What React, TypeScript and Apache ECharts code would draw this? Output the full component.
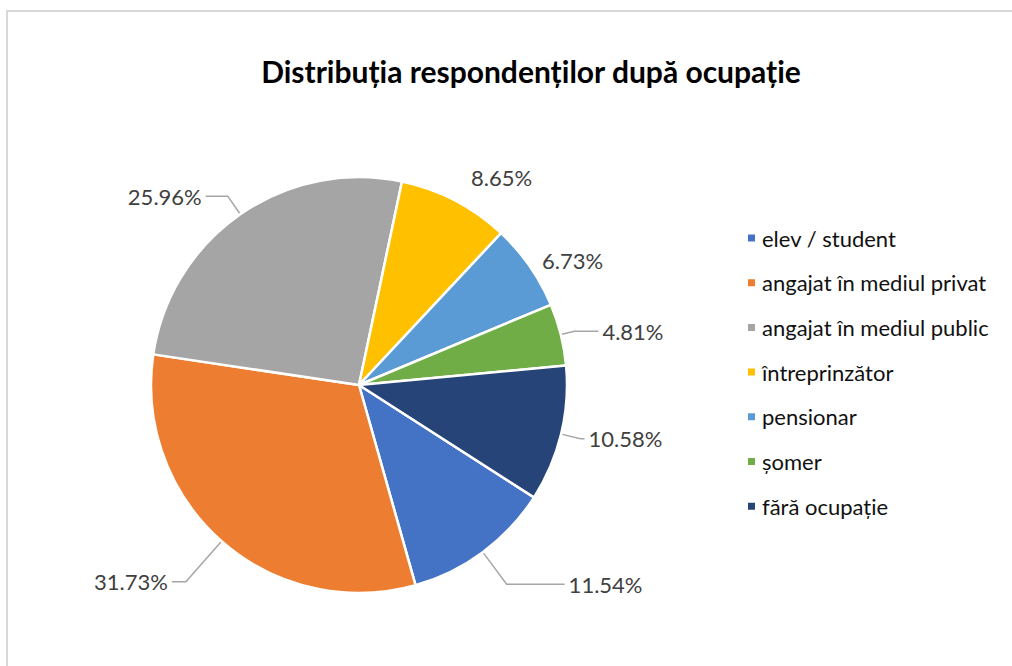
import React, { useEffect, useRef } from "react";
import * as echarts from "echarts";

const title = "Distribuția respondenților după ocupație";
const categories = [
  "elev / student",
  "angajat în mediul privat",
  "angajat în mediul public",
  "întreprinzător",
  "pensionar",
  "șomer",
  "fără ocupație",
];
const counts = [12, 33, 27, 9, 7, 5, 11];
const colors = ["#4472C4", "#ED7D31", "#A5A5A5", "#FFC000", "#5B9BD5", "#70AD47", "#264478"];
// leader line lengths per slice [length, length2, showLine]
const lineLengths: [number, number, boolean][] = [
  [40, 58, true],
  [54, 14, true],
  [22, 22, true],
  [26, 0, false],
  [10, 0, false],
  [14, 24, true],
  [20, 4, true],
];

export default function App() {
  const ref = useRef<HTMLDivElement>(null);
  useEffect(() => {
    if (!ref.current) return;
    const chart = echarts.init(ref.current, undefined, { renderer: "svg" });
    const data = categories.map((name, i) => ({
      name,
      value: counts[i],
      itemStyle: { color: colors[i] },
      labelLine: {
        show: lineLengths[i][2],
        length: lineLengths[i][0],
        length2: lineLengths[i][1],
      },
    }));
    chart.setOption({
      animation: false,
      backgroundColor: "#ffffff",
      title: {
        text: title,
        left: 526,
        textAlign: "center",
        top: 51,
        textStyle: {
          fontFamily: "Lato",
          fontWeight: "bold",
          fontSize: 30,
          color: "#000000",
        },
      },
      graphic: [
        {
          type: "rect",
          shape: { x: 7, y: 11, width: 1100, height: 700 },
          style: { fill: "none", stroke: "#d9d9d9", lineWidth: 2 },
          silent: true,
        },
      ],
      legend: {
        orient: "vertical",
        left: 741,
        top: 222,
        icon: "rect",
        itemWidth: 9,
        itemHeight: 9,
        itemGap: 22.7,
        data: categories,
        textStyle: {
          fontFamily: "Lato",
          fontSize: 22,
          color: "#111111",
          padding: [0, 0, 0, 1],
        },
      },
      series: [
        {
          type: "pie",
          center: [359, 385],
          radius: 208,
          startAngle: -32.7,
          clockwise: true,
          avoidLabelOverlap: false,
          itemStyle: { borderColor: "#ffffff", borderWidth: 2.5 },
          label: {
            show: true,
            position: "outside",
            formatter: (p: any) => p.percent.toFixed(2) + "%",
            fontFamily: "Lato",
            fontSize: 22,
            color: "#404040",
            distanceToLabelLine: 4,
          },
          labelLine: {
            lineStyle: { color: "#a6a6a6", width: 1.5 },
          },
          data,
        },
      ],
    });
    return () => chart.dispose();
  }, []);
  return (
    <div
      ref={ref}
      style={{ position: "fixed", left: 0, top: 0, width: 1012, height: 666 }}
    />
  );
}
